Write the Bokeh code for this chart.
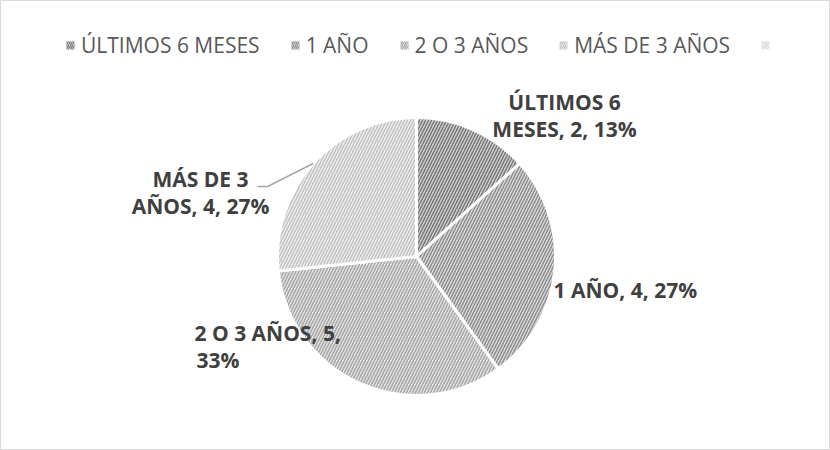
import math
from bokeh.plotting import figure
from bokeh.models import Range1d, Legend, LegendItem, ColumnDataSource
from bokeh.core.properties import value
from bokeh.embed import file_html
from bokeh.resources import INLINE

# ---- data ----
categories = ["ÚLTIMOS 6 MESES", "1 AÑO", "2 O 3 AÑOS", "MÁS DE 3 AÑOS"]
counts = [2, 4, 5, 4]

# ---- style ----
fill_colors = ["#d2d2d2", "#dadada", "#e3e3e3", "#eeeeee"]
hatch_colors = ["#7a7a7a", "#909090", "#a8a8a8", "#c4c4c4"]
HATCH = dict(hatch_pattern="/", hatch_scale=6, hatch_weight=1.5)

W, H = 830, 450
CX, CY, R = 416, 256, 139  # pie centre / radius in pixels (top-down)

def py(y):
    return H - y

total = sum(counts)
cum = [0]
for c in counts:
    cum.append(cum[-1] + c)
start = [math.pi / 2 - cum[i + 1] * 2 * math.pi / total for i in range(len(counts))]
end = [math.pi / 2 - cum[i] * 2 * math.pi / total for i in range(len(counts))]

p = figure(width=W, height=H, output_backend="svg", toolbar_location=None,
           x_range=Range1d(0, W), y_range=Range1d(0, H), min_border=0,
           outline_line_color="#d9d9d9", outline_line_width=1)
p.axis.visible = False
p.grid.visible = False
p.background_fill_color = "white"

for i, cat in enumerate(categories):
    src = ColumnDataSource(dict(x=[CX], y=[py(CY)], s=[start[i]], e=[end[i]]))
    p.wedge(x="x", y="y", radius=R, start_angle="s", end_angle="e", source=src,
            fill_color=fill_colors[i], line_color="white", line_width=3,
            hatch_color=hatch_colors[i], **HATCH)

# legend swatches (square markers, drawn outside the visible range)
leg_fill = fill_colors + ["#f0f0f0"]
leg_hatch = hatch_colors + ["#dedede"]
leg_labels = categories + [" "]
items = []
for f, hc, lab in zip(leg_fill, leg_hatch, leg_labels):
    r = p.rect(x=[-50], y=[-50], width=1, height=1, fill_color=f, line_color=None,
               hatch_color=hc, hatch_pattern="/", hatch_scale=4, hatch_weight=1.2)
    items.append(LegendItem(label=lab, renderers=[r]))
legend = Legend(items=items, orientation="horizontal", location=(65, 391),
                label_text_font="Open Sans", label_text_font_size="21px",
                label_text_color="#595959", glyph_width=10, glyph_height=10,
                label_standoff=6, spacing=30, border_line_color=None,
                background_fill_alpha=0, margin=0, padding=0)
p.add_layout(legend, "center")

# ---- data labels ----
label_text = [f"{cat}, {v}, {round(100 * v / total)}%" for cat, v in zip(categories, counts)]
# wrap points and offsets relative to pie centre (layout)
wrap_after = [9, None, 14, 8]
label_dx = [148, 137, -222, -216]
label_dy = [-155, 33, 76, -78]
label_align = ["center", "left", "left", "center"]
line_h = 27

xs, ys, ts, al = [], [], [], []
for i, t in enumerate(label_text):
    lines = [t] if wrap_after[i] is None else [t[:wrap_after[i]], t[wrap_after[i]:].strip()]
    for j, ln in enumerate(lines):
        xs.append(CX + label_dx[i] + (2 if (label_align[i] == "left" and j == 1) else 0))
        ys.append(py(CY + label_dy[i] + j * line_h))
        ts.append(ln)
        al.append(label_align[i])
p.text(x=xs, y=ys, text=ts, text_align=al, text_baseline="middle",
       text_font=value("Open Sans"), text_font_style="bold",
       text_font_size="21px", text_color="#404040")

# leader line for last slice
mid4 = (start[3] + end[3]) / 2
ex, ey = CX + R * math.cos(mid4), py(CY) + R * math.sin(mid4)
lx, ly = CX + label_dx[3] + 57, py(CY + label_dy[3] + 8)
p.line(x=[ex, lx + 10, lx], y=[ey, ly, ly], line_color="#a6a6a6", line_width=1.5)

open("out.html", "w").write(file_html(p, INLINE))
